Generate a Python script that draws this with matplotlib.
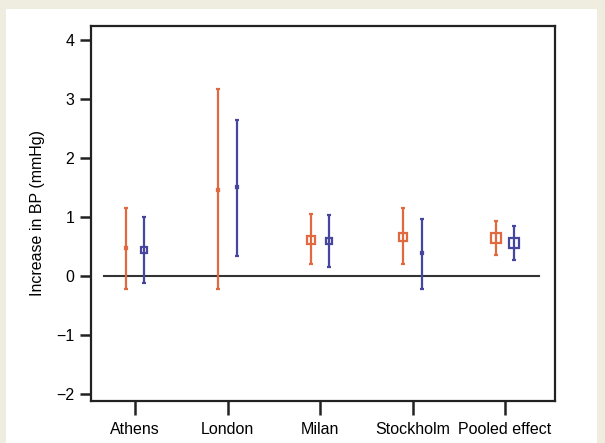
import matplotlib
matplotlib.use('Agg')
import matplotlib.pyplot as plt
from matplotlib.patches import Rectangle

plt.rcParams['font.family'] = ['Liberation Sans', 'DejaVu Sans']

# data
cities = ['Athens', 'London', 'Milan', 'Stockholm', 'Pooled effect']
red_est = [0.46, 1.45, 0.61, 0.66, 0.64]
red_lo = [-0.22, -0.23, 0.20, 0.20, 0.35]
red_hi = [1.15, 3.16, 1.05, 1.14, 0.92]
blue_est = [0.44, 1.50, 0.58, 0.38, 0.55]
blue_lo = [-0.12, 0.34, 0.15, -0.22, 0.27]
blue_hi = [0.99, 2.63, 1.02, 0.96, 0.84]
red_msize = [2, 2, 6, 6, 7.5]
blue_msize = [5, 2, 5, 2, 7]

red = '#e2683f'
blue = '#46469e'

fig = plt.figure(figsize=(6.05, 4.43), dpi=100)
fig.patch.set_facecolor('#efece0')
panel = Rectangle((6/605, 0), 591/605, 1 - 9/443, transform=fig.transFigure,
                  facecolor='white', edgecolor='none', zorder=-10)
fig.add_artist(panel)
ax = fig.add_axes([91/605, 1 - 401/443, 464/605, 375/443])
ax.set_zorder(1)

x = range(1, len(cities) + 1)
off = 0.1
for i, xi in enumerate(x):
    ax.errorbar(xi - off, red_est[i],
                yerr=[[red_est[i] - red_lo[i]], [red_hi[i] - red_est[i]]],
                fmt='s', color=red, ms=red_msize[i], mfc='none', mew=1.6,
                elinewidth=1.6, capsize=1.5, capthick=1, zorder=3)
    ax.errorbar(xi + off, blue_est[i],
                yerr=[[blue_est[i] - blue_lo[i]], [blue_hi[i] - blue_est[i]]],
                fmt='s', color=blue, ms=blue_msize[i], mfc='none', mew=1.6,
                elinewidth=1.6, capsize=1.5, capthick=1, zorder=3)

ax.plot([0.665, 5.37], [0, 0], color='#333333', lw=1.5, zorder=2)

ax.set_xlim(0.524, 5.54)
ax.set_ylim(-2.125, 4.23)
ax.set_xticks(list(x))
ax.set_xticklabels(cities)
ax.set_yticks(range(-2, 5))
ax.set_yticklabels([str(v).replace('-', '\u2212') for v in range(-2, 5)])
ax.set_ylabel('Increase in BP (mmHg)', fontsize=11.5, labelpad=8)
ax.tick_params(direction='out', width=1.8, labelsize=11.5, color='#222222')
ax.tick_params(axis='x', length=10, pad=5)
ax.tick_params(axis='y', length=8, pad=4)
for s in ax.spines.values():
    s.set_linewidth(1.6)
    s.set_color('#222222')

plt.savefig('out.png', dpi=100, facecolor=fig.get_facecolor())
